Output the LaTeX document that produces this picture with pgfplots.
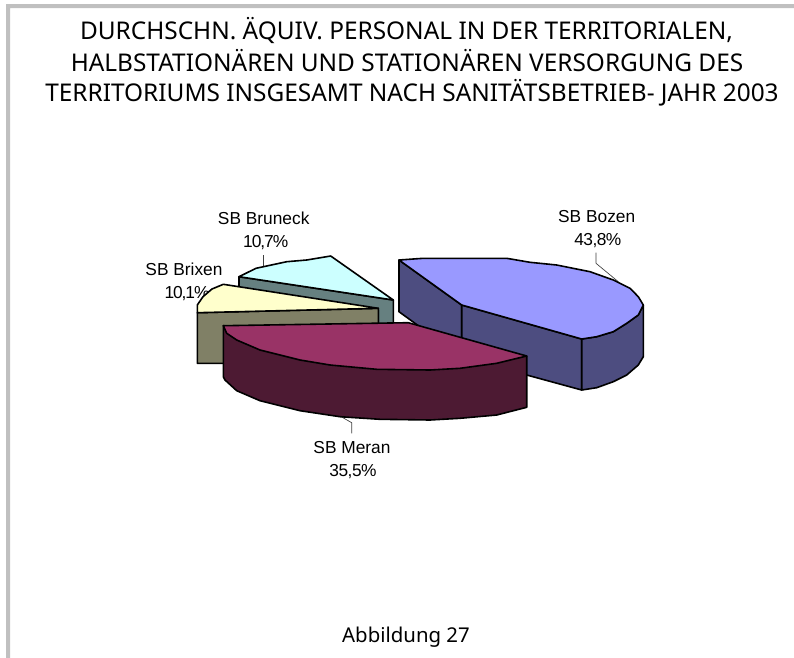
\documentclass[border=0pt]{standalone}
\usepackage{fontspec}
\setmainfont{Liberation Sans}
\newfontfamily\titlefont{Noto Sans}
\newfontfamily\tight[LetterSpace=-3]{Liberation Sans}
\newfontfamily\tighter[LetterSpace=-6]{Liberation Sans}
\usepackage{pgfplots}
\pgfplotsset{compat=1.18}
\definecolor{boztop}{HTML}{9999FF}\definecolor{bozside}{HTML}{4D4D80}
\definecolor{mertop}{HTML}{993366}\definecolor{merside}{HTML}{4D1A33}
\definecolor{brxtop}{HTML}{FFFFCC}\definecolor{brxside}{HTML}{808066}
\definecolor{brutop}{HTML}{CCFFFF}\definecolor{bruside}{HTML}{668080}
\definecolor{frame}{HTML}{C0C0C0}
\tikzset{lab/.style={anchor=base,inner sep=0pt,font=\fontsize{13pt}{15pt}\selectfont}}
\begin{document}
\begin{tikzpicture}
\begin{axis}[scale only axis,width=595.5pt,height=493.5pt,xmin=0,xmax=794,ymin=0,ymax=658,y dir=reverse,axis lines=none,clip=true,
 every axis plot/.append style={line join=round}]
% background and frame
\addplot[fill=white,draw=none] coordinates {(0,0)(794,0)(794,658)(0,658)} -- cycle;
\addplot[fill=frame,draw=none] coordinates {(6,4)(794,4)(794,8)(10,8)(10,658)(6,658)} -- cycle;
% titles
\node[anchor=base,inner sep=0pt,font=\titlefont\fontsize{18.3pt}{20pt}\selectfont] at (axis cs:406.5,39.5) {DURCHSCHN. ÄQUIV. PERSONAL IN DER TERRITORIALEN,};
\node[anchor=base,inner sep=0pt,font=\titlefont\fontsize{18.3pt}{20pt}\selectfont] at (axis cs:407,71) {HALBSTATIONÄREN UND STATIONÄREN VERSORGUNG DES};
\node[anchor=base,inner sep=0pt,font=\titlefont\fontsize{18.3pt}{20pt}\selectfont] at (axis cs:412,101) {TERRITORIUMS INSGESAMT NACH SANITÄTSBETRIEB- JAHR 2003};
\node[anchor=base,inner sep=0pt,font=\titlefont\fontsize{15.3pt}{18pt}\selectfont] at (axis cs:406,642.7) {Abbildung 27};
% labels
\node[lab] at (axis cs:596.7,222.7) {SB Bozen};
\node[lab,font=\tight\fontsize{13pt}{15pt}\selectfont] at (axis cs:597.8,245) {43,8\%};
\node[lab] at (axis cs:263.7,224) {SB Bruneck};
\node[lab,font=\tighter\fontsize{13pt}{15pt}\selectfont] at (axis cs:265.7,247.7) {10,7\%};
\node[lab] at (axis cs:184,275) {SB Brixen};
\node[lab,font=\tighter\fontsize{13pt}{15pt}\selectfont] at (axis cs:187,298) {10,1\%};
\node[lab] at (axis cs:352,453) {SB Meran};
\node[lab,font=\tight\fontsize{13pt}{15pt}\selectfont] at (axis cs:353,476.7) {35,5\%};
% leaders
\addplot[draw=black!75,line width=0.5pt] coordinates {(596,252.7)(596,263.3)(618.3,281.7)};
\addplot[draw=black!75,line width=0.5pt] coordinates {(263.3,255)(263.3,266)};
\addplot[draw=black!75,line width=0.5pt] coordinates {(351.7,433.3)(351.7,422.7)(341.7,417)};
% Bruneck
\addplot[fill=bruside,draw=black,line width=1.2pt] coordinates {(239,276.7)(239,290)(378.3,310)(378.3,330)(393.3,330)(393.3,300)} -- cycle;
\addplot[fill=brutop,draw=black,line width=1.2pt] coordinates {(239,276.7)(256,268.3)(286.7,261.7)(306.7,260)(330.7,256)(393.3,300)} -- cycle;
% Brixen
\addplot[fill=brxside,draw=black,line width=1.2pt] coordinates {(197.3,312.7)(378.3,308.3)(378.3,345)(240,363.3)(197.3,363.3)} -- cycle;
\addplot[fill=brxtop,draw=black,line width=1.2pt] coordinates {(197.3,312.7)(197.3,305)(203,296.7)(212,289)(223.3,284.3)(378.3,308.3)} -- cycle;
% Bozen
\addplot[fill=bozside,draw=black,line width=1.2pt] coordinates {(399,260)(461.7,305)(461.7,360)(408,335)(418.3,325.7)(399,311.7)} -- cycle;
\addplot[fill=bozside,draw=black,line width=1.2pt] coordinates {(461.7,305)(581.7,339)(581.7,390)(526.7,375)(461.7,357)} -- cycle;
\addplot[fill=bozside,draw=black,line width=1.2pt] coordinates {(581.7,339)(596.7,336.7)(613.3,331.7)(626.7,323.3)(638.3,315)(643.3,305)(643.3,356.7)(638.3,365)(626.7,375)(613.3,381.7)(596.7,387.7)(581.7,390)} -- cycle;
\addplot[fill=boztop,draw=black,line width=1.2pt] coordinates {(399,260)(423.3,258.3)(506.7,258.3)(530,262.3)(556.7,265)(590,271.7)(613.3,280)(630,288.3)(638.3,296.7)(643.3,305)(638.3,315)(626.7,323.3)(613.3,331.7)(596.7,336.7)(581.7,339)(461.7,305)} -- cycle;
% Meran
\addplot[fill=merside,draw=black,line width=1.2pt] coordinates {(223.3,325.7)(223.3,376.7)(225,380)(236.7,390.7)(260,400.7)(300,410.7)(340,416.7)(380,419.3)(430,420)(460,418.3)(496.7,415)(526.7,407.3)(526.7,356)} -- cycle;
\addplot[fill=mertop,draw=black,line width=1.2pt] coordinates {(223.3,325.7)(408.3,322.7)(526.7,356)(496.7,363.3)(460,368.3)(430,370)(376.7,369.3)(330,365)(300,360)(260,350)(236.7,340)(226.7,333.3)} -- cycle;
\end{axis}
\end{tikzpicture}
\end{document}
